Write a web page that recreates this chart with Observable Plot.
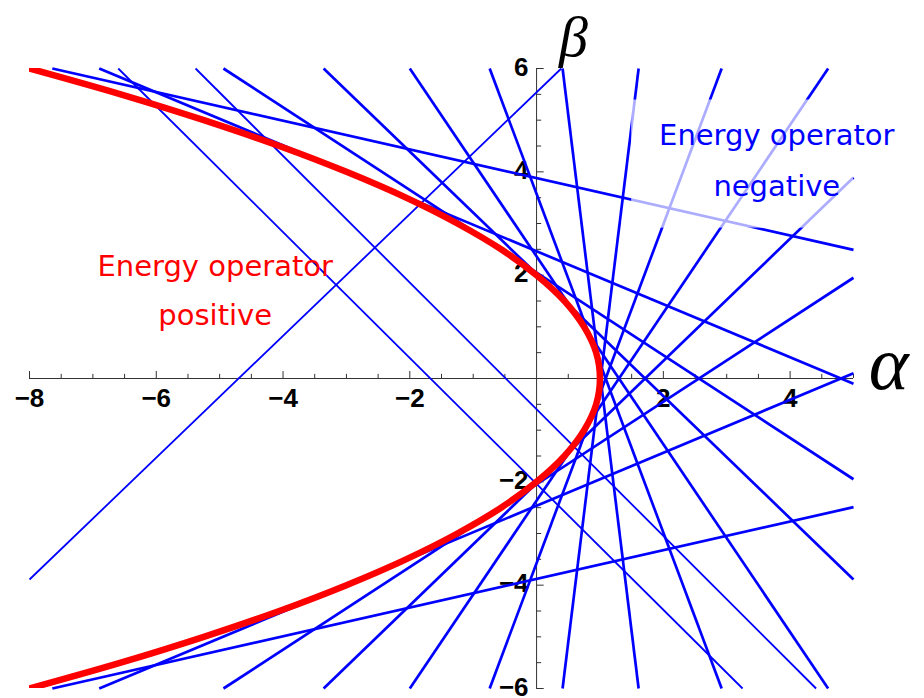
<!DOCTYPE html>
<html>
<head>
<meta charset="utf-8">
<script src="https://cdn.jsdelivr.net/npm/d3@7"></script>
<script src="https://cdn.jsdelivr.net/npm/@observablehq/plot@0.6"></script>
<style>
  html, body { margin: 0; padding: 0; background: #ffffff; }
  svg { display: block; }
</style>
</head>
<body>
<div id="chart"></div>
<script>
// ---------- DATA ----------
// red boundary curve: points (alpha, beta)
const curveBeta  = [-6, -5.5, -5, -4.5, -4, -3.5, -3, -2.5, -2, -1.5, -1, -0.5, 0, 0.5, 1, 1.5, 2, 2.5, 3, 3.5, 4, 4.5, 5, 5.5, 6];
const curveAlpha = [-8, -6.56, -5.25, -4.06, -3, -2.06, -1.25, -0.56, 0, 0.44, 0.75, 0.94, 1, 0.94, 0.75, 0.44, 0, -0.56, -1.25, -2.06, -3, -4.06, -5.25, -6.56, -8];

// blue lines touching the curve: start (alpha, beta) -> end (alpha, beta)
const tangentStartAlpha = [0.41, 1.61, -0.74, 2.92, -2.0, 4.6, -3.36, -3.36, -4.94, -4.94, -6.9, -6.9, -7.64, -7.64];
const tangentStartBeta  = [6, 6, 6, 6, 6, 6, 6, -6, 6, -6, 6, -6, 6, -6];
const tangentEndAlpha   = [1.61, 0.41, 2.92, -0.74, 4.6, -2.0, 5, 5, 5, 5, 5, 5, 5, 5];
const tangentEndBeta    = [-6, -6, -6, -6, -6, -6, -3.89, 3.89, -1.95, 1.95, -0.1, 0.1, 2.49, -2.49];

// other (thinner) blue lines
const otherStartAlpha = [-8, -6.6, -5.38];
const otherStartBeta  = [-3.89, 6, 6];
const otherEndAlpha   = [0.39, 3.25, 4.41];
const otherEndBeta    = [6, -6, -6];

// axis tick labels
const alphaTickValues = [-8, -6, -4, -2, 2, 4];
const alphaTickLabels = ["\u22128", "\u22126", "\u22124", "\u22122", "2", "4"];
const betaTickValues  = [6, 4, 2, -2, -4, -6];
const betaTickLabels  = ["6", "4", "2", "\u22122", "\u22124", "\u22126"];

// annotations
const annotText  = ["Energy operator", "positive", "Energy operator", "negative"];
const annotAlpha = [-5.07, -5.07, 3.79, 3.79];
const annotBeta  = [2.17, 1.21, 4.69, 3.72];
const annotColor = ["#ff0000", "#ff0000", "#0000ff", "#0000ff"];

// ---------- build ----------
const curve = curveBeta.map((b, i) => ({a: curveAlpha[i], b}));
const tangents = tangentStartAlpha.map((a, i) => ({a1: a, b1: tangentStartBeta[i], a2: tangentEndAlpha[i], b2: tangentEndBeta[i]}));
const others = otherStartAlpha.map((a, i) => ({a1: a, b1: otherStartBeta[i], a2: otherEndAlpha[i], b2: otherEndBeta[i]}));
const annots = annotText.map((t, i) => ({t, a: annotAlpha[i], b: annotBeta[i], c: annotColor[i]}));

const alphaMajor = new Set(alphaTickValues);
const betaMajor = new Set(betaTickValues);
const alphaMinor = d3.range(-8, 5.001, 0.5).filter(v => v !== 0 && !alphaMajor.has(v));
const betaMinor = d3.range(-6, 6.001, 0.5).filter(v => v !== 0 && !betaMajor.has(v));

// tick lengths expressed in data units (x: 63.33 px/unit, y: 51.65 px/unit)
const xTickMajor = 0.135, xTickMinor = 0.08;
const yTickMajor = 0.12, yTickMinor = 0.08;

const axisColor = "#333333";
const tickFont = "Liberation Sans, Arial, Helvetica, sans-serif";
const greekFont = "Liberation Serif, Times New Roman, serif";
const noteFont = "DejaVu Sans, sans-serif";

const chart = Plot.plot({
  width: 924,
  height: 698,
  marginLeft: 29,
  marginRight: 71,
  marginTop: 68,
  marginBottom: 10,
  x: {domain: [-8, 5], axis: null},
  y: {domain: [-6, 6], axis: null},
  style: {background: "#ffffff", overflow: "visible"},
  marks: [
    // axes through the origin
    Plot.ruleY([0], {stroke: axisColor, strokeWidth: 1}),
    Plot.ruleX([0], {stroke: axisColor, strokeWidth: 1}),
    Plot.ruleX(alphaTickValues, {x: d => d, y1: 0, y2: xTickMajor, stroke: axisColor, strokeWidth: 1}),
    Plot.ruleX(alphaMinor, {x: d => d, y1: 0, y2: xTickMinor, stroke: axisColor, strokeWidth: 1}),
    Plot.ruleY(betaTickValues, {y: d => d, x1: 0, x2: yTickMajor, stroke: axisColor, strokeWidth: 1}),
    Plot.ruleY(betaMinor, {y: d => d, x1: 0, x2: yTickMinor, stroke: axisColor, strokeWidth: 1}),
    Plot.text(alphaTickValues, {x: d => d, y: 0, text: (d, i) => alphaTickLabels[i], dy: 20,
      fontSize: 26, fontWeight: "bold", fontFamily: tickFont, fill: "#000"}),
    Plot.text(betaTickValues, {x: 0, y: d => d, text: (d, i) => betaTickLabels[i], dx: -8, dy: -1, textAnchor: "end",
      fontSize: 26, fontWeight: "bold", fontFamily: tickFont, fill: "#000"}),
    // blue lines
    Plot.link(others, {x1: "a1", y1: "b1", x2: "a2", y2: "b2", stroke: "#0000ff", strokeWidth: 1.8}),
    Plot.link(tangents, {x1: "a1", y1: "b1", x2: "a2", y2: "b2", stroke: "#0000ff", strokeWidth: 2.7}),
    // red boundary
    Plot.line(curve, {x: "a", y: "b", curve: "catmull-rom", stroke: "#ff0000", strokeWidth: 6.5, clip: true}),
    // translucent backing behind the blue label
    Plot.rect([{x1: 1.5, x2: 5, y1: 2.91, y2: 5.39}], {x1: "x1", x2: "x2", y1: "y1", y2: "y2", fill: "#ffffff", fillOpacity: 0.68}),
    // annotations
    Plot.text(annots, {x: "a", y: "b", text: "t", fill: "c", fontSize: 29, fontFamily: noteFont}),
    // axis titles
    Plot.text(["\u03b2"], {x: 0.58, y: 6.6, text: d => d, fontSize: 58, fontStyle: "italic", fontFamily: greekFont, fill: "#000"}),
    Plot.text(["\u03b1"], {x: 5.24, y: 0.26, text: d => d, textAnchor: "start", fontSize: 76, fontStyle: "italic", fontFamily: greekFont, fill: "#000"})
  ]
});

document.getElementById("chart").appendChild(chart);
</script>
</body>
</html>
